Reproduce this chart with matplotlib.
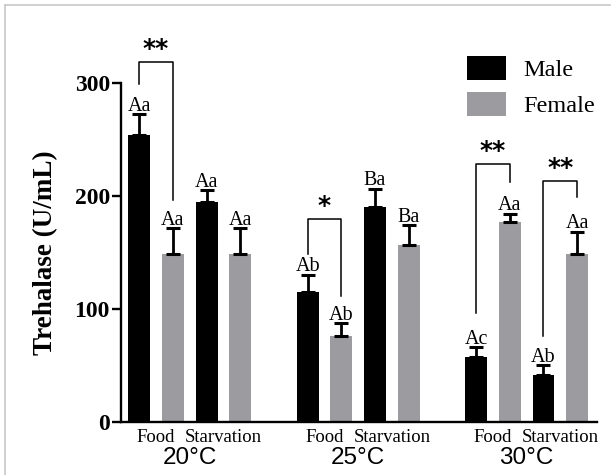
import matplotlib
matplotlib.use("Agg")
import matplotlib.pyplot as plt
from matplotlib.patches import Patch
from matplotlib.lines import Line2D
from matplotlib.font_manager import FontProperties
import numpy as np

# data
temps = ["20°C", "25°C", "30°C"]
treatments = ["Food", "Starvation"]
male = [254, 194, 115, 190, 57, 41]
male_err = [18, 11, 15, 16, 9, 9]
female = [148, 148, 76, 156, 177, 148]
female_err = [23, 23, 11, 18, 7, 20]
male_letters = ["Aa", "Aa", "Ab", "Ba", "Ac", "Ab"]
female_letters = ["Aa", "Aa", "Ab", "Ba", "Aa", "Aa"]
yticks = [0, 100, 200, 300]

# significance brackets: (pair index, left leg bottom, top, right leg bottom, stars)
brackets = [
    (0, 299, 318, 196, "**"),
    (2, 148, 179, 111, "*"),
    (4, 96, 228, 212, "**"),
    (5, 76, 213, 199, "**"),
]

serif = "Liberation Serif"
sans = "Liberation Sans"
black = "#000000"
gray = "#9c9ca0"

# bar positions: two bars per treatment, gap of one bar between temperatures
xm = []
for g in range(3):
    for t in range(2):
        xm.append(g * 5 + t * 2)
xm = np.array(xm, dtype=float)
xf = xm + 1

fig = plt.figure(figsize=(6.13, 4.75), dpi=100)
ax = fig.add_axes([121 / 613, 1 - 421.7 / 475, (596.7 - 121) / 613, (421.7 - 82.7) / 475])

w = 0.65
ax.bar(xm, male, width=w, color=black, zorder=2)
ax.bar(xf, female, width=w, color=gray, zorder=2)
err_kw = dict(fmt="none", ecolor="black", elinewidth=2, capsize=4.8, capthick=2.2, zorder=3)
ax.errorbar(xm, male, yerr=[np.zeros(6), male_err], **err_kw)
ax.errorbar(xf, female, yerr=[np.zeros(6), female_err], **err_kw)

for x, v, e, s in zip(xm, male, male_err, male_letters):
    ax.annotate(s, (x, v + e), xytext=(0, 2.5), textcoords="offset points",
                ha="center", va="baseline", fontsize=14.5, family=serif)
for x, v, e, s in zip(xf, female, female_err, female_letters):
    ax.annotate(s, (x, v + e), xytext=(0, 2.5), textcoords="offset points",
                ha="center", va="baseline", fontsize=14.5, family=serif)

for i, lb, top, rb, stars in brackets:
    x0, x1 = xm[i], xf[i]
    ax.plot([x0, x0, x1, x1], [lb, top, top, rb], color="black", lw=1.1,
            clip_on=False, zorder=4)
    ax.text((x0 + x1) / 2, top + 1, stars, ha="center", va="bottom",
            fontsize=18, fontweight="bold", family="DejaVu Sans", clip_on=False)

ax.set_xlim(-0.54, 13.58)
ax.set_ylim(0, 300)
ax.set_yticks(yticks)
ax.set_yticklabels([str(t) for t in yticks], fontsize=17, fontweight="bold", family=serif)
ax.tick_params(axis="y", length=6.5, width=1.7, pad=1.5)

ax.set_xticks((xm + xf) / 2)
ax.set_xticklabels(treatments * 3, fontsize=13.5, family=serif)
ax.tick_params(axis="x", length=0, pad=5)

for g, t in enumerate(temps):
    ax.text(g * 5 + 1.5, -0.108, t, transform=ax.get_xaxis_transform(),
            ha="center", va="center", fontsize=17.5, family=sans)

ax.set_ylabel("Trehalase (U/mL)", fontsize=19.5, fontweight="bold", family=serif, labelpad=12)

for side in ["top", "right"]:
    ax.spines[side].set_visible(False)
for side in ["left", "bottom"]:
    ax.spines[side].set_linewidth(1.7)

handles = [Patch(facecolor=black, label="Male"), Patch(facecolor=gray, label="Female")]
fig.legend(handles=handles, loc="upper left", bbox_to_anchor=(467.3 / 613, 1 - 56 / 475),
           frameon=False, borderpad=0, borderaxespad=0, handlelength=1.58, handleheight=1.12,
           handletextpad=0.72, labelspacing=0.45, prop=FontProperties(family=serif, size=17.5))

# thin grey frame at top and left, as in the reference image
fig.add_artist(Line2D([5 / 613, 610 / 613], [1 - 5 / 475, 1 - 5 / 475], color="#c8c8c8", lw=1.2))
fig.add_artist(Line2D([5 / 613, 5 / 613], [0, 1 - 5 / 475], color="#c8c8c8", lw=1.2))

fig.savefig("out.png", dpi=100)
